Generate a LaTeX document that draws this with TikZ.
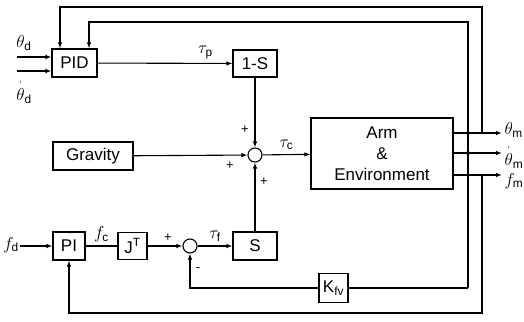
\documentclass[tikz,border=0pt]{standalone}
\usepackage{amsmath}
\usepackage{fontspec}
\setmainfont{Liberation Sans}
\usetikzlibrary{arrows.meta}

\begin{document}
\begin{tikzpicture}[x=1pt,y=-1pt,
  font=\fontsize{17}{21}\selectfont,
  line width=1.1pt,
  blk/.style={draw, inner sep=0pt},
  sum/.style={draw, circle, minimum size=14pt, inner sep=0pt},
  sig/.style={-{Latex[length=6pt,width=4.5pt]}},
  sgn/.style={font=\fontsize{13}{13}\selectfont},
  lbl/.style={inner sep=0pt}]
  \useasboundingbox (0,0) rectangle (524,321);
  % blocks
  \node[blk, minimum width=45pt, minimum height=28pt] (pid) at (74.5,63) {PID};
  \node[blk, minimum width=44pt, minimum height=27pt] (oms) at (255,63.5) {1-S};
  \node[blk, minimum width=80pt, minimum height=28pt] (grav) at (93,156) {Gravity};
  \node[blk, minimum width=142pt, minimum height=71pt, align=center] (arm) at (382,153.5) {Arm\\\&\\Environment};
  \node[sum] (sumc) at (255,155) {};
  \node[blk, minimum width=32pt, minimum height=28pt] (pi) at (69,246) {PI};
  \node[blk, minimum width=29pt, minimum height=27pt] (jt) at (132.5,246) {J\textsuperscript{T}};
  \node[sum] (sumf) at (190,246) {};
  \node[blk, minimum width=44pt, minimum height=28pt] (sel) at (255,246) {S};
  \node[blk, minimum width=29pt, minimum height=29pt] (kfv) at (333.5,288) {K$_\mathrm{fv}$};
  % inputs
  \coordinate (thd) at (17,57);
  \coordinate (dthd) at (17,71);
  \coordinate (fd) at (20,246);
  \draw[sig] (thd) -- (thd -| pid.west);
  \draw[sig] (dthd) -- (dthd -| pid.west);
  \draw[sig] (fd) -- (pi);
  \node[lbl] (thdl) at (24,43) {$\theta_\mathrm{d}$};
  \node[lbl] (dthdl) at (24,91) {${\overset{\cdot}{\theta}}_\mathrm{d}$};
  \node[lbl] (fdl) at (11,245) {$f_\mathrm{d}$};
  % forward path
  \draw[sig] (pid) -- (oms) node[pos=0.8, above=1pt] (taup) {$\tau_\mathrm{p}$};
  \draw[sig] (oms) -- (sumc);
  \draw[sig] (grav) -- (sumc);
  \draw[sig] (sumc) -- (arm) node[midway, above=1pt] (tauc) {$\tau_\mathrm{c}$};
  \draw (pi) -- (jt) node[midway, above=0pt] (fcl) {$f_\mathrm{c}$};
  \draw[sig] (jt) -- (sumf);
  \draw[sig] (sumf) -- (sel) node[midway, above=1pt] (tauf) {$\tau_\mathrm{f}$};
  \draw[sig] (sel) -- (sumc);
  % signs
  \node[sgn] (s1) at (245,130) {+};
  \node[sgn] (s2) at (230,166) {+};
  \node[sgn] (s3) at (264,182) {+};
  \node[sgn] (s4) at (168,238) {+};
  \node[sgn] (s5) at (198,270) {-};
  % outputs
  \coordinate (om) at (502,133);
  \coordinate (dom) at (502,153);
  \coordinate (fm) at (502,175);
  \draw[sig] (arm.east |- om) -- (om);
  \draw[sig] (arm.east |- dom) -- (dom);
  \draw[sig] (arm.east |- fm) -- (fm);
  \node[lbl, anchor=west] (oml) at (504,130) {$\theta_\mathrm{m}$};
  \node[lbl, anchor=west] (doml) at (504,156) {${\overset{\cdot}{\theta}}_\mathrm{m}$};
  \node[lbl, anchor=west] (fml) at (504,181) {$f_\mathrm{m}$};
  % feedback
  \coordinate (jp) at (482,133);
  \coordinate (jv) at (468,153);
  \coordinate (jf) at (482,175);
  \coordinate (top1) at (482,7);
  \coordinate (top2) at (468,22);
  \coordinate (bot1) at (482,313);
  \coordinate (bot2) at (468,288);
  \draw[sig] (jp) -- (top1) -| ([xshift=-14.5pt]pid.north);
  \draw[sig] (bot2) -- (top2) -| ([xshift=14.5pt]pid.north);
  \fill (jv) circle (2pt);
  \draw (bot2) -- (kfv.east);
  \draw[sig] (kfv.west) -| (sumf.south);
  \draw[sig] (jf) -- (bot1) -| (pi.south);
\end{tikzpicture}
\end{document}
